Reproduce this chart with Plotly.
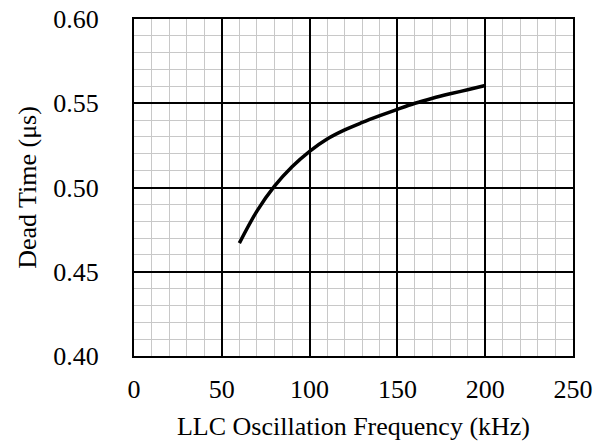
import plotly.graph_objects as go

freq_khz = [60, 70, 80, 90, 100, 110, 120, 130, 140, 150, 160, 170, 180, 190, 200]
dead_time_us = [0.467, 0.4860, 0.5008, 0.5123, 0.5215, 0.5288, 0.5342, 0.5386, 0.5426, 0.5464,
                0.5500, 0.5530, 0.5556, 0.5580, 0.5605]

x_ticks = [0, 50, 100, 150, 200, 250]
y_ticks = [0.40, 0.45, 0.50, 0.55, 0.60]

FONT = "Liberation Serif, Times New Roman, serif"

fig = go.Figure()
fig.add_trace(go.Scatter(x=freq_khz, y=dead_time_us, mode="lines",
                         line=dict(color="black", width=3.5, shape="spline", smoothing=1.0),
                         showlegend=False, hoverinfo="skip"))

fig.update_layout(
    width=600, height=442,
    margin=dict(l=134, r=27, t=19, b=86),
    paper_bgcolor="white", plot_bgcolor="white",
    font=dict(family=FONT, size=26, color="black"),
)
fig.update_xaxes(
    range=[0, 250], tickvals=x_ticks, ticktext=[str(v) for v in x_ticks],
    showgrid=True, gridcolor="black", gridwidth=1.5,
    minor=dict(dtick=10, showgrid=True, gridcolor="#c8c8c8", gridwidth=1),
    showline=True, linecolor="black", linewidth=2, mirror=True,
    zeroline=False, ticks="", ticklabelstandoff=9, automargin=False,
    ticklabeloverflow="allow",
    title=dict(text="LLC Oscillation Frequency (kHz)", standoff=14, font=dict(size=26)),
)
fig.update_yaxes(
    range=[0.40, 0.60], tickvals=y_ticks, ticktext=[f"{v:.2f}" for v in y_ticks],
    showgrid=True, gridcolor="black", gridwidth=1.5,
    minor=dict(dtick=0.01, showgrid=True, gridcolor="#c8c8c8", gridwidth=1),
    showline=True, linecolor="black", linewidth=2, mirror=True,
    zeroline=False, ticks="", ticklabelstandoff=28, automargin=False,
    ticklabeloverflow="allow",
    title=dict(text="Dead Time (μs)", standoff=9, font=dict(size=26)),
)

fig.write_html("out.html", config={"displayModeBar": False},
               post_script="document.body.style.margin='0px';")
